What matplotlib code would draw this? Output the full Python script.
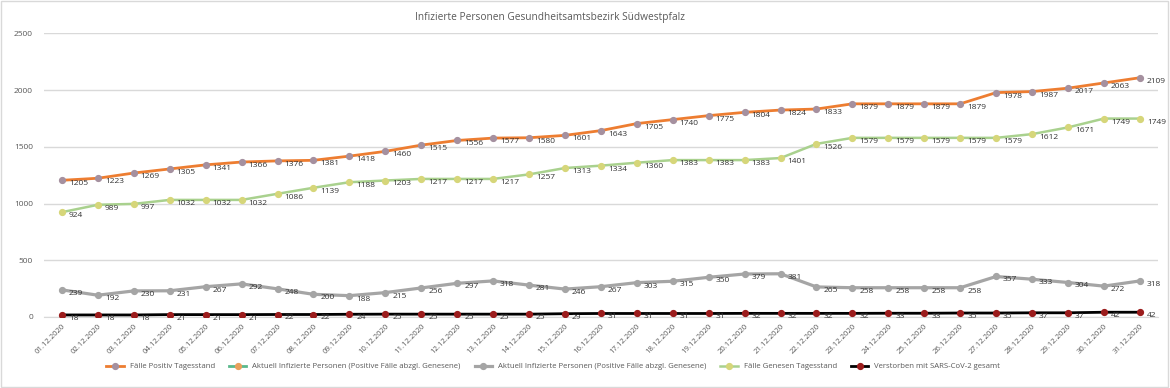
import matplotlib.pyplot as plt
from matplotlib.patches import Rectangle

plt.rcParams['font.family'] = ['Open Sans', 'DejaVu Sans']

dates = ['%02d.12.2020' % d for d in range(1, 32)]

faelle_positiv = [1205, 1223, 1269, 1305, 1341, 1366, 1376, 1381, 1418, 1460,
                  1515, 1556, 1577, 1580, 1601, 1643, 1705, 1740, 1775, 1804,
                  1824, 1833, 1879, 1879, 1879, 1879, 1978, 1987, 2017, 2063, 2109]
aktuell_infiziert = [239, 192, 230, 231, 267, 292, 248, 200, 188, 215,
                     256, 297, 318, 281, 246, 267, 303, 315, 350, 379,
                     381, 265, 258, 258, 258, 258, 357, 333, 304, 272, 318]
genesen = [924, 989, 997, 1032, 1032, 1032, 1086, 1139, 1188, 1203,
           1217, 1217, 1217, 1257, 1313, 1334, 1360, 1383, 1383, 1383,
           1401, 1526, 1579, 1579, 1579, 1579, 1579, 1612, 1671, 1749, 1749]
verstorben = [18, 18, 18, 21, 21, 21, 22, 22, 24, 25,
              25, 25, 25, 25, 29, 31, 31, 31, 31, 32,
              32, 32, 32, 33, 33, 35, 35, 37, 37, 42, 42]

yticks = [0, 500, 1000, 1500, 2000, 2500]

fig = plt.figure(figsize=(11.7, 3.88), dpi=100)
ax = fig.add_axes([0.0376, 0.183, 0.952, 0.731])

x = list(range(len(dates)))
label_col = '#333333'


def draw(values, lc, mc, lw, label):
    ax.plot(x, values, color=lc, lw=lw, marker='o', markersize=4.2,
            markerfacecolor=mc, markeredgecolor=mc, label=label, zorder=3)
    for i, v in enumerate(values):
        ax.annotate(str(v), (i, v), xytext=(5, -2.5), textcoords='offset points',
                    fontsize=6, color=label_col, va='center', ha='left', zorder=4)


draw(faelle_positiv, '#ED7D31', '#A5909F', 2.0, 'Fälle Positiv Tagesstand')
# series without visible values, only in the legend
ax.plot([], [], color='#5BB98C', lw=2, marker='o', markersize=4.2,
        markerfacecolor='#E8A05C', markeredgecolor='#E8A05C',
        label='Aktuell Infizierte Personen (Positive Fälle abzgl. Genesene)')
draw(aktuell_infiziert, '#A5A5A5', '#A5A5A5', 2.3,
     'Aktuell Infizierte Personen (Positive Fälle abzgl. Genesene)')
draw(genesen, '#A9D18E', '#D6D67A', 1.8, 'Fälle Genesen Tagesstand')
draw(verstorben, '#000000', '#9B1C1C', 2.0, 'Verstorben mit SARS-CoV-2 gesamt')

ax.set_xlim(-0.5, len(dates) - 0.5)
ax.set_ylim(0, 2500)
ax.set_yticks(yticks)
ax.set_yticklabels([str(t) for t in yticks], fontsize=6, color='#595959')
ax.set_xticks(x)
ax.set_xticklabels(dates, rotation=45, ha='right', rotation_mode='anchor',
                   fontsize=5.6, color='#595959')
ax.tick_params(axis='x', length=0, pad=4)
ax.tick_params(axis='y', length=0, pad=8)
ax.grid(axis='y', color='#D9D9D9', lw=1)
ax.set_axisbelow(True)
for s in ['top', 'right', 'left']:
    ax.spines[s].set_visible(False)
ax.spines['bottom'].set_color('#D9D9D9')

fig.text(0.47, 0.955, 'Infizierte Personen Gesundheitsamtsbezirk Südwestpfalz',
         ha='center', va='center', fontsize=7.3, color='#595959')

fig.legend(loc='center', bbox_to_anchor=(0.473, 0.055), ncol=5, frameon=False,
           fontsize=5.6, handlelength=2.2, columnspacing=1.8, labelcolor='#595959')

fig.patches.append(Rectangle((0.001, 0.002), 0.997, 0.995, transform=fig.transFigure,
                             fill=False, edgecolor='#D9D9D9', lw=1))

plt.savefig('out.png', dpi=100)
